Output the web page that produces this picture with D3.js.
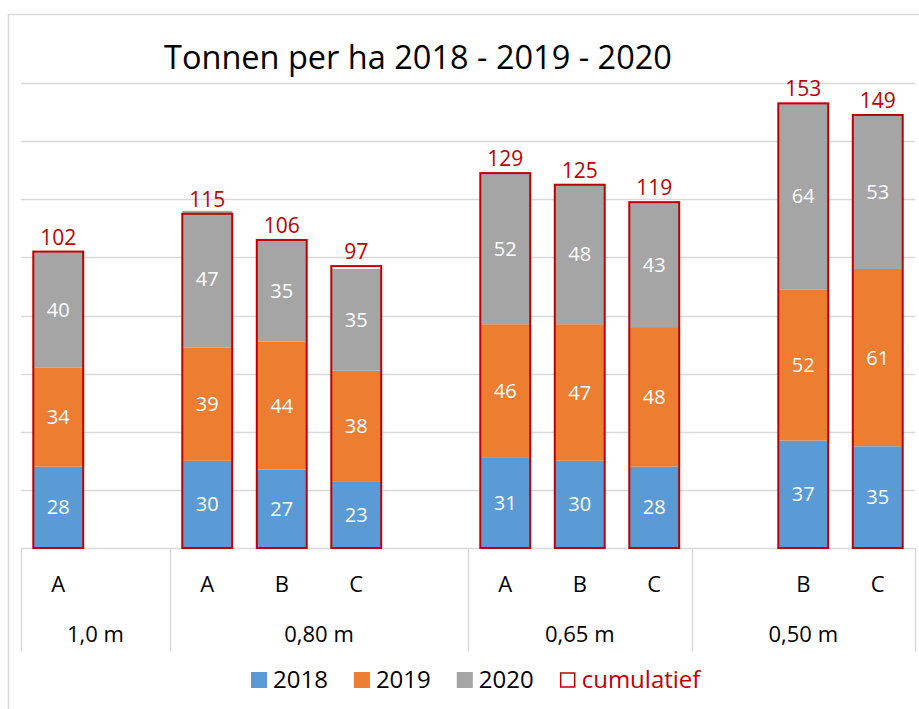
<!DOCTYPE html>
<html>
<head>
<meta charset="utf-8">
<script src="https://cdn.jsdelivr.net/npm/d3@7"></script>
<style>
  body { margin: 0; background: #fff; }
  svg { font-family: 'Open Sans', sans-serif; }
</style>
</head>
<body>
<div id="chart"></div>
<script>
// one entry per slot on the category axis (empty slots keep the Excel spacing)
const slotGroup = ['1,0 m', '1,0 m', '0,80 m', '0,80 m', '0,80 m', '0,80 m', '0,65 m', '0,65 m', '0,65 m', '0,50 m', '0,50 m', '0,50 m'];
const slotLabel = ['A', '', 'A', 'B', 'C', '', 'A', 'B', 'C', '', 'B', 'C'];
const groups = ['1,0 m', '0,80 m', '0,65 m', '0,50 m'];
const series = ['2018', '2019', '2020'];
const v2018 = [28, null, 30, 27, 23, null, 31, 30, 28, null, 37, 35];
const v2019 = [34, null, 39, 44, 38, null, 46, 47, 48, null, 52, 61];
const v2020 = [40, null, 47, 35, 35, null, 52, 48, 43, null, 64, 53];
const cumulatief = [102, null, 115, 106, 97, null, 129, 125, 119, null, 153, 149];
const yTicks = [0, 20, 40, 60, 80, 100, 120, 140, 160];

const width = 919;
const height = 709;
const colors = { 2018: '#5B9BD5', 2019: '#ED7D31', 2020: '#A5A5A5' };
const red = '#C00000';
const grid = '#d9d9d9';

const svg = d3.select('#chart')
  .append('svg')
  .attr('width', width)
  .attr('height', height);

// chart area border (runs off the picture on the right and bottom)
svg.append('rect')
  .attr('x', 8.5)
  .attr('y', 14.5)
  .attr('width', 940)
  .attr('height', 740)
  .attr('fill', 'none')
  .attr('stroke', grid)
  .attr('stroke-width', 1.5);

const x = d3.scaleBand()
  .domain(d3.range(slotLabel.length))
  .range([21, 915])
  .paddingInner(0.33)
  .paddingOuter(0.165);

const y = d3.scaleLinear()
  .domain([0, 160])
  .range([548, 83]);

// gridlines
svg.append('g')
  .selectAll('line')
  .data(yTicks)
  .join('line')
  .attr('x1', 21)
  .attr('x2', 915)
  .attr('y1', (d) => Math.round(y(d)) + 0.5)
  .attr('y2', (d) => Math.round(y(d)) + 0.5)
  .attr('stroke', grid)
  .attr('stroke-width', 1.5);

// title
svg.append('text')
  .attr('x', 418)
  .attr('y', 69)
  .attr('text-anchor', 'middle')
  .style('font-size', '32.5px')
  .attr('fill', '#000')
  .text('Tonnen per ha 2018 - 2019 - 2020');

const rows = slotLabel.map((d, i) => ({
  i, 2018: v2018[i] || 0, 2019: v2019[i] || 0, 2020: v2020[i] || 0,
})).filter((d) => cumulatief[d.i] !== null);

const stacked = d3.stack().keys(series)(rows);

svg.append('g')
  .selectAll('g')
  .data(stacked)
  .join('g')
  .attr('fill', (s) => colors[s.key])
  .selectAll('rect')
  .data((s) => s)
  .join('rect')
  .attr('x', (d) => x(d.data.i))
  .attr('width', x.bandwidth())
  .attr('y', (d) => y(d[1]))
  .attr('height', (d) => y(d[0]) - y(d[1]));

// segment labels
svg.append('g')
  .selectAll('g')
  .data(stacked)
  .join('g')
  .selectAll('text')
  .data((s) => s)
  .join('text')
  .attr('x', (d) => x(d.data.i) + x.bandwidth() / 2)
  .attr('y', (d) => (y(d[0]) + y(d[1])) / 2 + 7)
  .attr('text-anchor', 'middle')
  .attr('fill', '#fff')
  .style('font-size', '20px')
  .text((d) => d[1] - d[0]);

// cumulatief outline + label
const tot = cumulatief.map((v, i) => ({ i, v })).filter((d) => d.v !== null);

svg.append('g')
  .selectAll('rect')
  .data(tot)
  .join('rect')
  .attr('x', (d) => x(d.i))
  .attr('width', x.bandwidth())
  .attr('y', (d) => y(d.v))
  .attr('height', (d) => y(0) - y(d.v))
  .attr('fill', 'none')
  .attr('stroke', red)
  .attr('stroke-width', 2);

svg.append('g')
  .selectAll('text')
  .data(tot)
  .join('text')
  .attr('x', (d) => x(d.i) + x.bandwidth() / 2)
  .attr('y', (d) => y(d.v) - 7)
  .attr('text-anchor', 'middle')
  .attr('fill', red)
  .style('font-size', '21px')
  .text((d) => d.v);

// multi-level category axis
const step = x.step();
const groupSpans = groups.map((g) => {
  const idx = slotGroup.map((s, i) => (s === g ? i : -1)).filter((i) => i >= 0);
  const x0 = x(idx[0]) - x.paddingInner() * step / 2;
  const x1 = x(idx[idx.length - 1]) + x.bandwidth() + x.paddingInner() * step / 2;
  return { g, x0, x1 };
});

const dividers = [groupSpans[0].x0].concat(groupSpans.map((d) => d.x1));
svg.append('g')
  .selectAll('line')
  .data(dividers)
  .join('line')
  .attr('x1', (d) => Math.round(d) + 0.5)
  .attr('x2', (d) => Math.round(d) + 0.5)
  .attr('y1', y(0))
  .attr('y2', 651)
  .attr('stroke', grid)
  .attr('stroke-width', 1.5);

svg.append('g')
  .selectAll('text')
  .data(slotLabel.map((t, i) => ({ t, i })).filter((d) => d.t))
  .join('text')
  .attr('x', (d) => x(d.i) + x.bandwidth() / 2)
  .attr('y', 592)
  .attr('text-anchor', 'middle')
  .style('font-size', '22px')
  .attr('fill', '#000')
  .text((d) => d.t);

svg.append('g')
  .selectAll('text')
  .data(groupSpans)
  .join('text')
  .attr('x', (d) => (d.x0 + d.x1) / 2)
  .attr('y', 642)
  .attr('text-anchor', 'middle')
  .style('font-size', '22px')
  .attr('fill', '#000')
  .text((d) => d.g);

// legend
const legendItems = series.map((s) => ({ label: s, fill: colors[s], stroke: 'none', text: '#000' }))
  .concat([{ label: 'cumulatief', fill: '#fff', stroke: red, text: red }]);

const legend = svg.append('g');
let lx = 0;
legendItems.forEach((d, k) => {
  const item = legend.append('g').attr('transform', `translate(${lx},0)`);
  if (d.stroke === 'none') {
    item.append('rect').attr('x', 0).attr('y', 672).attr('width', 16).attr('height', 16)
      .attr('fill', d.fill);
  } else {
    item.append('rect').attr('x', 1).attr('y', 673).attr('width', 14).attr('height', 14)
      .attr('fill', d.fill).attr('stroke', d.stroke).attr('stroke-width', 1.5);
  }
  const t = item.append('text')
    .attr('x', 22)
    .attr('y', 688)
    .style('font-size', '24px')
    .attr('fill', d.text)
    .text(d.label);
  lx += 22 + t.node().getComputedTextLength() + (k < legendItems.length - 1 ? 26 : 0);
});
legend.attr('transform', `translate(${Math.round(476 - lx / 2)},0)`);
</script>
</body>
</html>
